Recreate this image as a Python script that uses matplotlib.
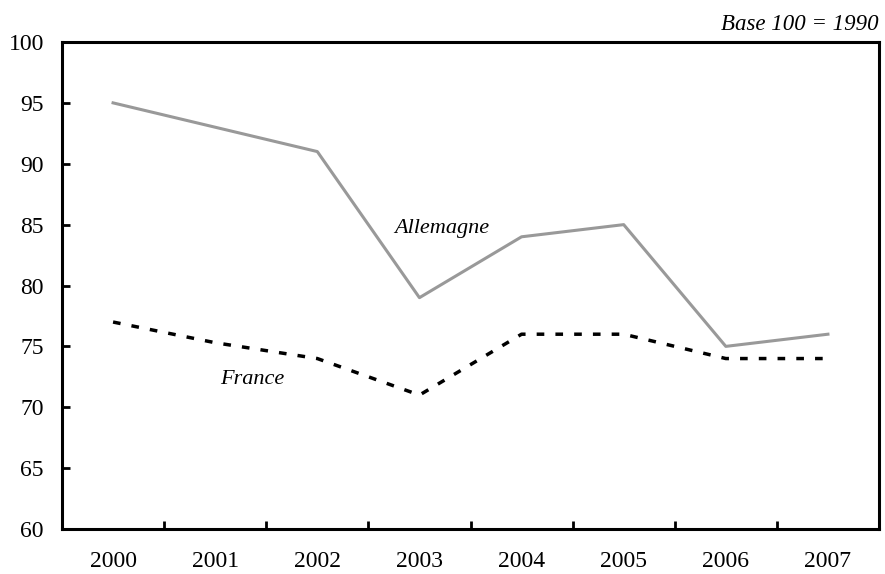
import numpy as np
import matplotlib
matplotlib.use('Agg')
import matplotlib.pyplot as plt

# données (base 100 = 1990)
years = ['2000', '2001', '2002', '2003', '2004', '2005', '2006', '2007']
allemagne = [95, 93, 91, 79, 84, 85, 75, 76]
france = [77, 75.3, 74, 71, 76, 76, 74, 74]

plt.rcParams['font.family'] = ['Liberation Serif', 'DejaVu Serif']

fig = plt.figure(figsize=(8.85, 5.74), dpi=100)
ax = fig.add_axes([62 / 885, 1 - 529 / 574, (879 - 62) / 885, (529 - 42) / 574])

x = np.arange(len(years))
ax.plot(x, allemagne, color='#999999', lw=2.2)
ax.plot(x, france, color='black', lw=2.5, dashes=(2.2, 3.2))

ax.set_xlim(-0.5, len(years) - 0.5)
ax.set_ylim(60, 100)
ax.set_yticks(np.arange(60, 101, 5))

# graduations entre les catégories
ax.set_xticks(np.arange(0.5, len(years) - 1, 1))
ax.set_xticklabels([])
ax.set_xticks(x, minor=True)
ax.set_xticklabels(years, minor=True)
ax.tick_params(axis='x', which='minor', length=0, pad=16, labelsize=17)
ax.tick_params(axis='x', which='major', direction='in', length=6, width=2)
ax.tick_params(axis='y', direction='in', length=6, width=2, labelsize=17, pad=13)

for s in ax.spines.values():
    s.set_linewidth(2.2)

ax.text(2.75, 84.3, 'Allemagne', style='italic', fontsize=16)
ax.text(1.05, 71.9, 'France', style='italic', fontsize=16)
fig.text(879 / 885, 1 - 24 / 574, 'Base 100 = 1990', style='italic', fontsize=16.5,
         ha='right', va='center')

fig.savefig('out.png', dpi=100)
